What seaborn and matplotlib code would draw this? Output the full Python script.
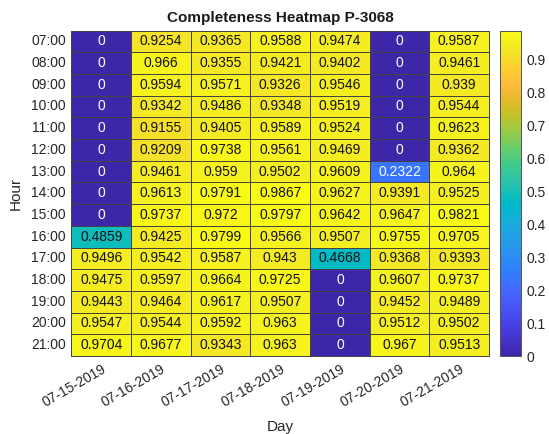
import numpy as np
import pandas as pd
import matplotlib
matplotlib.use("Agg")
import matplotlib.pyplot as plt
from matplotlib.colors import LinearSegmentedColormap
import seaborn as sns

# Hourly completeness per day
hours = ["07:00", "08:00", "09:00", "10:00", "11:00", "12:00", "13:00", "14:00",
         "15:00", "16:00", "17:00", "18:00", "19:00", "20:00", "21:00"]
days = ["07-15-2019", "07-16-2019", "07-17-2019", "07-18-2019",
        "07-19-2019", "07-20-2019", "07-21-2019"]

d0715 = [0, 0, 0, 0, 0, 0, 0, 0, 0, 0.4859, 0.9496, 0.9475, 0.9443, 0.9547, 0.9704]
d0716 = [0.9254, 0.966, 0.9594, 0.9342, 0.9155, 0.9209, 0.9461, 0.9613, 0.9737,
         0.9425, 0.9542, 0.9597, 0.9464, 0.9544, 0.9677]
d0717 = [0.9365, 0.9355, 0.9571, 0.9486, 0.9405, 0.9738, 0.959, 0.9791, 0.972,
         0.9799, 0.9587, 0.9664, 0.9617, 0.9592, 0.9343]
d0718 = [0.9588, 0.9421, 0.9326, 0.9348, 0.9589, 0.9561, 0.9502, 0.9867, 0.9797,
         0.9566, 0.943, 0.9725, 0.9507, 0.963, 0.963]
d0719 = [0.9474, 0.9402, 0.9546, 0.9519, 0.9524, 0.9469, 0.9609, 0.9627, 0.9642,
         0.9507, 0.4668, 0, 0, 0, 0]
d0720 = [0, 0, 0, 0, 0, 0, 0.2322, 0.9391, 0.9647, 0.9755, 0.9368, 0.9607,
         0.9452, 0.9512, 0.967]
d0721 = [0.9587, 0.9461, 0.939, 0.9544, 0.9623, 0.9362, 0.964, 0.9525, 0.9821,
         0.9705, 0.9393, 0.9737, 0.9489, 0.9502, 0.9513]

df = pd.DataFrame(
    np.column_stack([d0715, d0716, d0717, d0718, d0719, d0720, d0721]),
    index=hours, columns=days)

# Parula-style colormap
parula_rgb = [
    [0.2422, 0.1504, 0.6603], [0.2504, 0.1650, 0.7076], [0.2578, 0.1818, 0.7511],
    [0.2647, 0.1978, 0.7952], [0.2706, 0.2147, 0.8364], [0.2751, 0.2342, 0.8710],
    [0.2783, 0.2559, 0.8991], [0.2803, 0.2782, 0.9221], [0.2813, 0.3006, 0.9414],
    [0.2810, 0.3228, 0.9579], [0.2795, 0.3447, 0.9717], [0.2760, 0.3667, 0.9829],
    [0.2699, 0.3892, 0.9906], [0.2602, 0.4123, 0.9952], [0.2440, 0.4358, 0.9988],
    [0.2206, 0.4603, 0.9973], [0.1963, 0.4847, 0.9892], [0.1834, 0.5074, 0.9798],
    [0.1786, 0.5289, 0.9682], [0.1764, 0.5499, 0.9520], [0.1687, 0.5703, 0.9359],
    [0.1540, 0.5902, 0.9218], [0.1460, 0.6091, 0.9079], [0.1380, 0.6276, 0.8973],
    [0.1248, 0.6459, 0.8883], [0.1113, 0.6635, 0.8763], [0.0952, 0.6798, 0.8598],
    [0.0689, 0.6948, 0.8394], [0.0297, 0.7082, 0.8163], [0.0036, 0.7203, 0.7917],
    [0.0067, 0.7312, 0.7660], [0.0433, 0.7411, 0.7394], [0.0964, 0.7500, 0.7120],
    [0.1408, 0.7584, 0.6842], [0.1717, 0.7670, 0.6554], [0.1938, 0.7758, 0.6251],
    [0.2161, 0.7843, 0.5923], [0.2470, 0.7918, 0.5567], [0.2906, 0.7973, 0.5188],
    [0.3406, 0.8008, 0.4789], [0.3909, 0.8029, 0.4354], [0.4456, 0.8024, 0.3909],
    [0.5044, 0.7993, 0.3480], [0.5616, 0.7942, 0.3045], [0.6174, 0.7876, 0.2612],
    [0.6720, 0.7793, 0.2227], [0.7242, 0.7698, 0.1910], [0.7738, 0.7598, 0.1646],
    [0.8203, 0.7498, 0.1535], [0.8634, 0.7406, 0.1596], [0.9035, 0.7330, 0.1774],
    [0.9393, 0.7288, 0.2100], [0.9728, 0.7298, 0.2394], [0.9956, 0.7434, 0.2371],
    [0.9970, 0.7659, 0.2199], [0.9952, 0.7893, 0.2028], [0.9892, 0.8136, 0.1885],
    [0.9786, 0.8386, 0.1766], [0.9676, 0.8639, 0.1643], [0.9610, 0.8890, 0.1537],
    [0.9597, 0.9135, 0.1423], [0.9628, 0.9373, 0.1265], [0.9691, 0.9606, 0.1064],
    [0.9769, 0.9839, 0.0805],
]
parula = LinearSegmentedColormap.from_list("parula", parula_rgb, N=256)

sns.set_theme(style="white")
plt.rcParams["font.family"] = ["Liberation Sans", "DejaVu Sans"]
text_gray = "#262626"

fig = plt.figure(figsize=(5.49, 4.34), dpi=100)
ax = fig.add_axes([0.1302, 0.1797, 0.7605, 0.750])
cax = fig.add_axes([0.9107, 0.1797, 0.0383, 0.749])

labels = df.map(lambda v: f"{v:.4g}")
sns.heatmap(df, ax=ax, cbar_ax=cax, cmap=parula, vmin=0, vmax=df.values.max(),
            annot=labels, fmt="", annot_kws={"fontsize": 10},
            linewidths=0.5, linecolor="#444444")

# Text colour: white on the dark cells, black elsewhere
for txt, v in zip(ax.texts, df.values.ravel()):
    txt.set_color("white" if v < 0.3 else "#111111")

for s in ax.spines.values():
    s.set_visible(True)
    s.set_color("#444444")
    s.set_linewidth(0.7)

ax.tick_params(axis="both", length=0, labelsize=10, colors=text_gray, pad=4)
ax.set_yticklabels(hours, rotation=0)
ax.set_xticklabels(days, rotation=30, ha="right", rotation_mode="anchor")
ax.set_xlabel("Day", fontsize=11, color=text_gray, labelpad=8)
ax.set_ylabel("Hour", fontsize=11, color=text_gray, labelpad=6)
ax.set_title("Completeness Heatmap P-3068", fontsize=11, fontweight="bold",
             color="#1a1a1a", pad=6)

cax.set_yticks(np.round(np.arange(0, 1.0, 0.1), 1))
cax.set_yticklabels(["0", "0.1", "0.2", "0.3", "0.4", "0.5", "0.6", "0.7", "0.8", "0.9"])
cax.tick_params(axis="y", right=True, direction="in", length=3, width=0.6,
                color="#555555", labelsize=10, labelcolor=text_gray, pad=4)
for s in cax.spines.values():
    s.set_visible(True)
    s.set_color("#555555")
    s.set_linewidth(0.6)

fig.savefig("out.png", dpi=100)
